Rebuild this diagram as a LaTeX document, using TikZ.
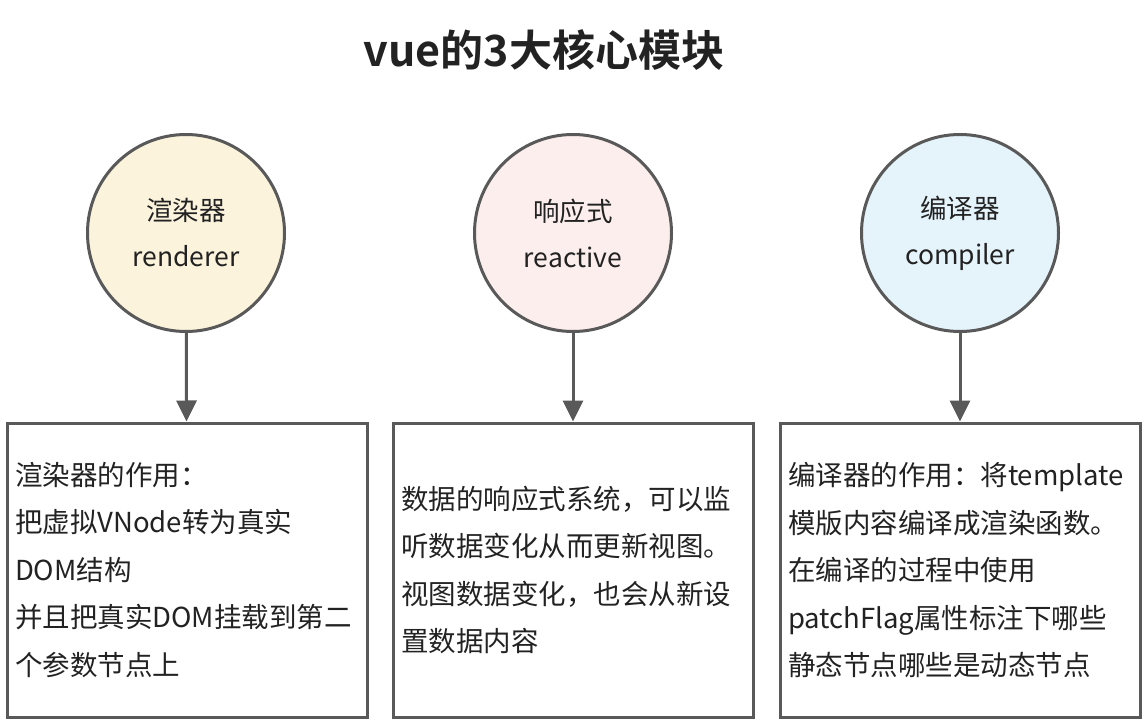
\documentclass[tikz,border=0pt]{standalone}
\usepackage{fontspec}
\setmainfont{Noto Sans CJK SC}[BoldFont={Noto Sans CJK SC Bold}]
\usetikzlibrary{arrows.meta}

\definecolor{linegray}{HTML}{595959}
\definecolor{textdark}{HTML}{222222}
\definecolor{renderfill}{HTML}{FBF3DC}
\definecolor{reactfill}{HTML}{FCEEEC}
\definecolor{compilefill}{HTML}{E5F3FB}

\tikzset{
	module/.style={circle, draw=linegray, line width=3pt, minimum size=197pt, inner sep=0pt,
		align=center, text=textdark, font=\fontsize{26.5}{46}\selectfont},
	infobox/.style={rectangle, draw=linegray, line width=3pt, minimum width=360pt, minimum height=294pt,
		text width=344pt, inner xsep=8pt, inner ysep=0pt, align=left, text=textdark,
		font=\fontsize{27.5}{47.5}\selectfont},
	pointer/.style={draw=linegray, line width=3pt, -{Triangle[width=20pt,length=21pt]}}
}

\begin{document}
\begin{tikzpicture}[x=1pt, y=-1pt]
			%%%%% START %%%%%
			\useasboundingbox (0, 0) rectangle (1146, 722);
			
			\node[text=textdark, font=\fontsize{43}{50}\selectfont\bfseries] (title) at (544, 50) {vue的3大核心模块};
			
			\node[module, fill=renderfill] (renderer) at (186, 233) {渲染器\\renderer};
			\node[module, fill=reactfill] (reactive) at (573, 233) {响应式\\reactive};
			\node[module, fill=compilefill] (compiler) at (960, 233) {编译器\\compiler};
			
			\node[infobox] (renderbox) at (187, 570) {渲染器的作用：\\把虚拟VNode转为真实\\DOM结构\\并且把真实DOM挂载到第二\\个参数节点上};
			\node[infobox] (reactbox) at (573, 570) {数据的响应式系统，可以监\\听数据变化从而更新视图。\\视图数据变化，也会从新设\\置数据内容};
			\node[infobox] (compilebox) at (960, 570) {编译器的作用：将template\\模版内容编译成渲染函数。\\在编译的过程中使用\\patchFlag属性标注下哪些\\静态节点哪些是动态节点};
			
			\draw[pointer] (renderer) -- (renderbox);
			\draw[pointer] (reactive) -- (reactbox);
			\draw[pointer] (compiler) -- (compilebox);
			%%%%% END %%%%%
		\end{tikzpicture}
\end{document}
